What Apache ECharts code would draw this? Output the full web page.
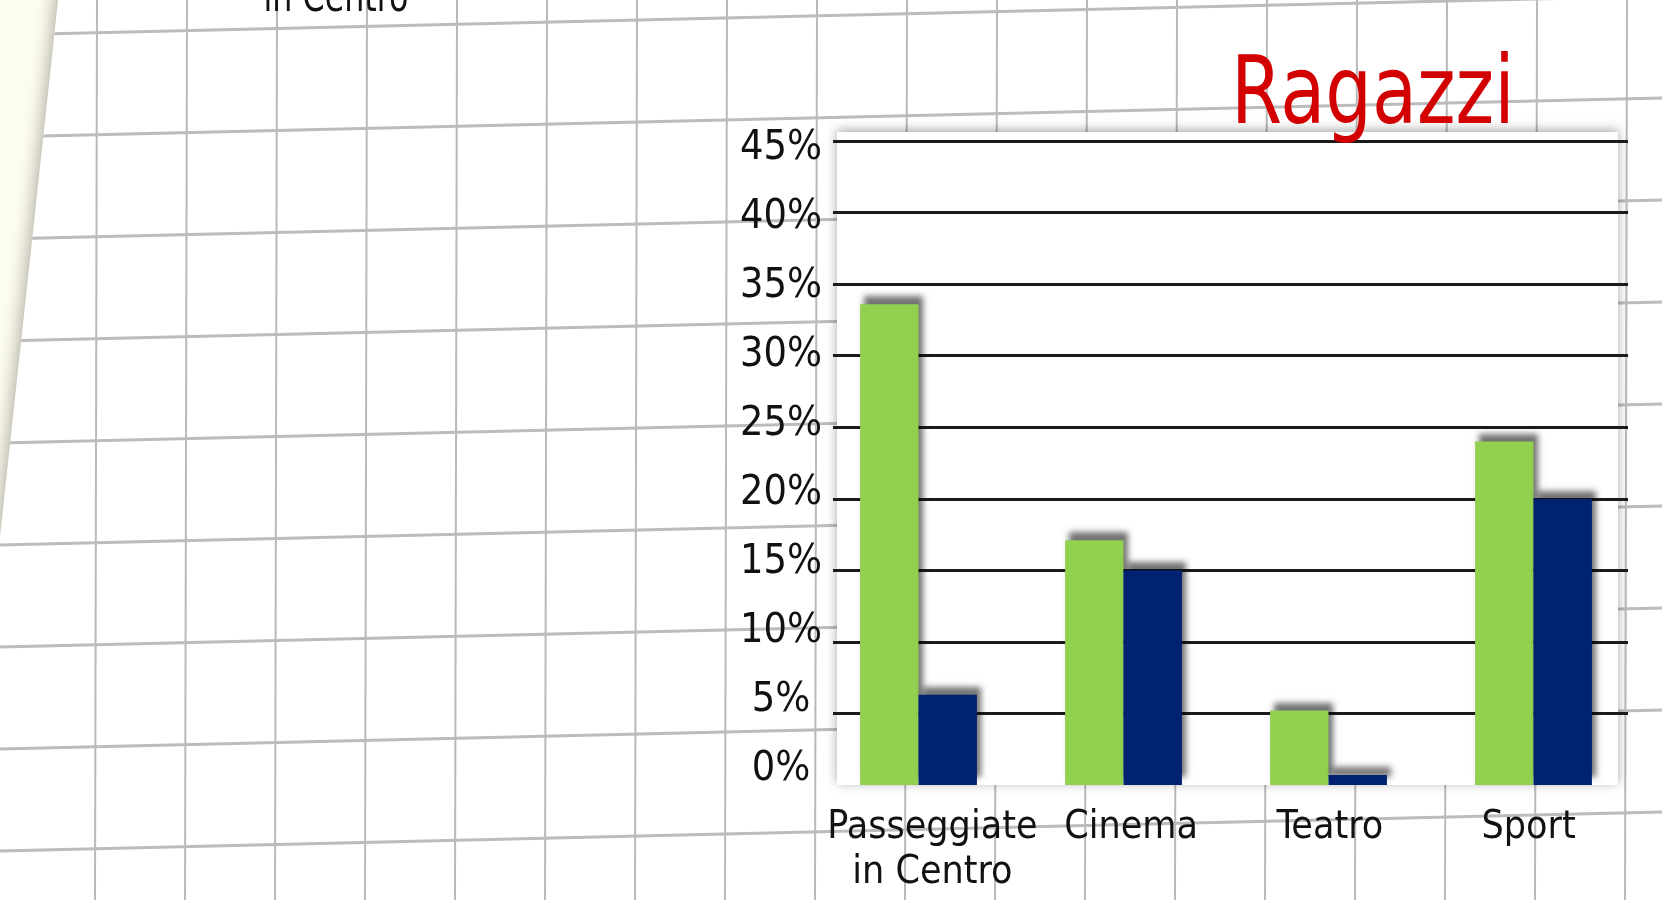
<!DOCTYPE html>
<html>
<head>
<meta charset="utf-8">
<title>Ragazzi</title>
<script src="https://cdn.jsdelivr.net/npm/echarts@6/dist/echarts.min.js"></script>
<style>
  html, body { margin: 0; padding: 0; background: #fff; }
  #chart { width: 1662px; height: 900px; }
</style>
</head>
<body>
<div id="chart"></div>
<script>
// dati del grafico
const categorie = ['Passeggiate\nin Centro', 'Cinema', 'Teatro', 'Sport'];
const serieVerde = [33.6, 17.1, 5.2, 24.0];
const serieBlu = [6.3, 15.0, 0.7, 20.0];
const yMin = 0, yMax = 45, yPasso = 5;
const titolo = 'Ragazzi';
const testoSopra = 'in Centro'; // etichetta tagliata del grafico sopra

const FONT = "'Liberation Sans Narrow', 'DejaVu Sans Condensed', sans-serif";
const VERDE = '#92D050';
const BLU = '#002270';

// sfondo: foglio a quadretti
function foglio() {
  const els = [];
  for (let k = 1; k <= 18; k++) {
    const x = 5 + 90 * k;
    els.push({
      type: 'line', z: -20, silent: true,
      shape: { x1: x + 2, y1: 0, x2: x, y2: 900 },
      style: { stroke: '#b9b9b9', lineWidth: 2 }
    });
  }
  for (let k = 0; k <= 8; k++) {
    const y = 35 + 102 * k;
    els.push({
      type: 'line', z: -20, silent: true,
      shape: { x1: 0, y1: y, x2: 1662, y2: y - 39 },
      style: { stroke: '#bcbcbc', lineWidth: 3 }
    });
  }
  // bordo della pagina a sinistra
  els.push({
    type: 'polygon', z: -15, silent: true,
    shape: { points: [[0, 0], [58, 0], [0, 536]] },
    style: { fill: '#fdfcf1' }
  });
  els.push({
    type: 'rect', z: -14, silent: true,
    x: 58, y: 0, rotation: -Math.atan(58 / 536),
    shape: { x: -22, y: -10, width: 22, height: 560 },
    style: {
      fill: new echarts.graphic.LinearGradient(0, 0, 1, 0, [
        { offset: 0, color: 'rgba(253,252,241,0)' },
        { offset: 1, color: '#cbc8bc' }
      ])
    }
  });
  // area bianca del grafico
  els.push({
    type: 'rect', z: -10, silent: true,
    shape: { x: 837, y: 132, width: 781, height: 653 },
    style: { fill: '#fff', shadowBlur: 10, shadowColor: 'rgba(0,0,0,0.35)', shadowOffsetY: -2 }
  });
  els.push({
    type: 'text', z: 5, silent: true,
    x: 336, y: 0, scaleX: 0.84,
    style: {
      text: testoSopra, fill: '#111', font: '42px ' + FONT,
      align: 'center', verticalAlign: 'middle'
    }
  });
  // titolo
  els.push({
    type: 'text', z: 5, silent: true,
    x: 1231, y: 98, scaleX: 0.86,
    style: {
      text: titolo, fill: '#D20000', font: '95px ' + FONT,
      align: 'left', verticalAlign: 'middle'
    }
  });
  return els;
}

const chart = echarts.init(document.getElementById('chart'));
chart.setOption({
  animation: false,
  backgroundColor: '#fff',
  graphic: foglio(),
  grid: [
    // linee orizzontali ed etichette delle categorie
    { left: 833, right: 34, top: 141, bottom: 115 },
    // barre
    { left: 816, right: 26, top: 141, bottom: 115 },
    // etichette dell'asse y (nell'originale un po' piu' strette delle linee)
    { left: 833, right: 34, top: 148, bottom: 131 }
  ],
  xAxis: [
    {
      type: 'category', gridIndex: 0, data: categorie,
      axisLine: { show: false }, axisTick: { show: false },
      axisLabel: { color: '#111', fontSize: 39, lineHeight: 45, fontFamily: FONT, margin: 20, interval: 0 }
    },
    { type: 'category', gridIndex: 1, data: categorie, show: false },
    { type: 'category', gridIndex: 2, data: categorie, show: false }
  ],
  yAxis: [
    {
      type: 'value', gridIndex: 0, min: yMin, max: yMax, interval: yPasso,
      axisLine: { show: false }, axisTick: { show: false }, axisLabel: { show: false },
      splitLine: { show: true, showMinLine: false, lineStyle: { color: '#1a1a1a', width: 3 } }
    },
    {
      type: 'value', gridIndex: 1, min: yMin, max: yMax, interval: yPasso, show: false
    },
    {
      type: 'value', gridIndex: 2, min: yMin, max: yMax, interval: yPasso,
      axisLine: { show: false }, axisTick: { show: false }, splitLine: { show: false },
      axisLabel: {
        color: '#111', fontSize: 41, fontFamily: FONT, align: 'center', margin: 52,
        formatter: '{value}%'
      }
    }
  ],
  series: [
    {
      type: 'bar', name: 'verde', data: serieVerde, xAxisIndex: 1, yAxisIndex: 1,
      barGap: '0%', barCategoryGap: '43%',
      itemStyle: { color: VERDE, shadowColor: 'rgba(0,0,0,0.55)', shadowBlur: 6, shadowOffsetX: 4, shadowOffsetY: -8 }
    },
    {
      type: 'bar', name: 'blu', data: serieBlu, xAxisIndex: 1, yAxisIndex: 1,
      barGap: '0%', barCategoryGap: '43%',
      itemStyle: { color: BLU, shadowColor: 'rgba(0,0,0,0.55)', shadowBlur: 6, shadowOffsetX: 4, shadowOffsetY: -8 }
    }
  ]
});
</script>
</body>
</html>
